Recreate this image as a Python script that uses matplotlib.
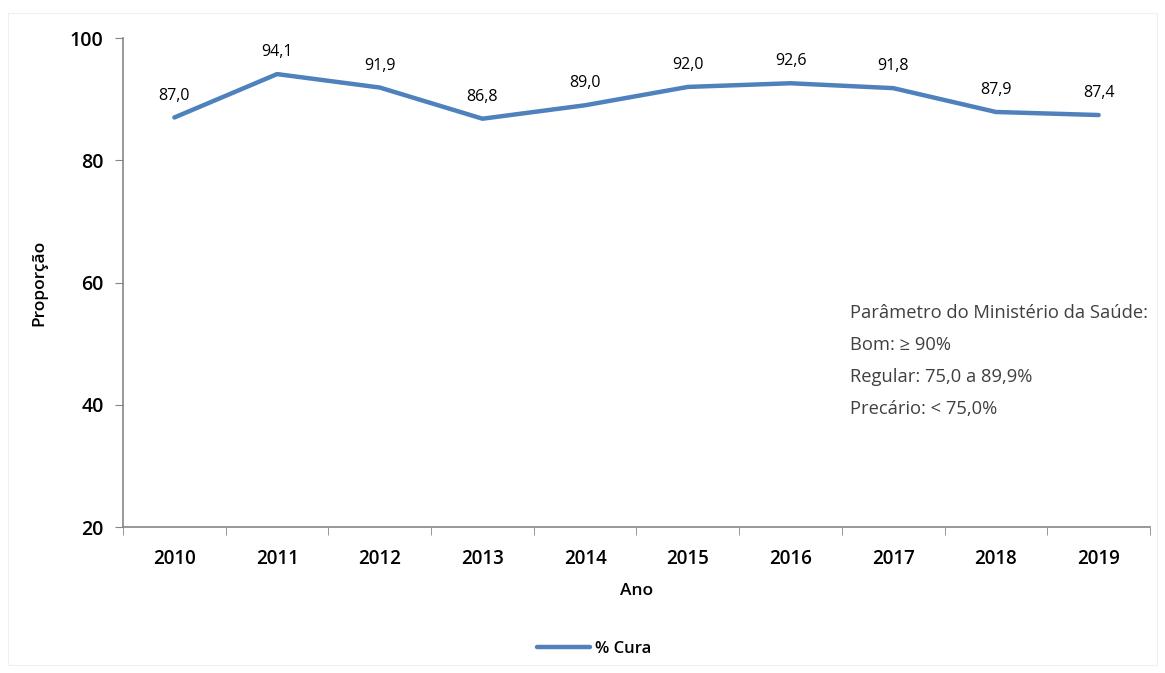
import matplotlib.pyplot as plt
from matplotlib.patches import Rectangle
from matplotlib.ticker import FixedLocator

anos = ['2010', '2011', '2012', '2013', '2014', '2015', '2016', '2017', '2018', '2019']
cura = [87.0, 94.1, 91.9, 86.8, 89.0, 92.0, 92.6, 91.8, 87.9, 87.4]
nota = ['Parâmetro do Ministério da Saúde:', 'Bom: ≥ 90%', 'Regular: 75,0 a 89,9%', 'Precário: < 75,0%']

plt.rcParams['font.family'] = ['Open Sans', 'DejaVu Sans']
azul = '#4F81BD'
cinza = '#868686'

fig = plt.figure(figsize=(11.65, 6.73), dpi=100)
fig.patches.append(Rectangle((0.007, 0.012), 0.986, 0.968, transform=fig.transFigure,
                             fill=False, edgecolor='#F0F0F0', linewidth=0.8))
ax = fig.add_axes([0.1056, 0.2169, 0.8815, 0.7266])

x = list(range(len(anos)))
linha, = ax.plot(x, cura, color=azul, linewidth=3.2, solid_capstyle='round', label='% Cura')
for xi, v in zip(x, cura):
    ax.annotate(f'{v:.1f}'.replace('.', ','), (xi, v), xytext=(0, 10), textcoords='offset points',
                ha='center', va='bottom', fontsize=11.5, color='black')

ax.set_xlim(-0.5, len(anos) - 0.5)
ax.set_ylim(20, 100)
ax.set_yticks([20, 40, 60, 80, 100])
ax.set_xticks(x)
ax.set_xticklabels(anos, fontsize=13.5, fontweight='semibold')
ax.xaxis.set_minor_locator(FixedLocator([i - 0.5 for i in range(len(anos) + 1)]))
ax.tick_params(axis='x', which='major', length=0, pad=16)
ax.tick_params(axis='x', which='minor', length=6, color=cinza, direction='out')
ax.tick_params(axis='y', length=6, color=cinza, labelsize=14, pad=8)
for lab in ax.get_yticklabels():
    lab.set_fontweight('semibold')

for s in ['top', 'right']:
    ax.spines[s].set_visible(False)
for s in ['left', 'bottom']:
    ax.spines[s].set_color(cinza)
    ax.spines[s].set_linewidth(1.2)

ax.set_xlabel('Ano', fontsize=12.5, fontweight='semibold', labelpad=10)
ax.set_ylabel('Proporção', fontsize=12.5, fontweight='semibold', labelpad=16)

for i, t in enumerate(nota):
    fig.text(850 / 1165, 1 - (313 + 32 * i) / 673, t, fontsize=13.2, color='#404040',
             ha='left', va='center')

fig.legend(handles=[linha], loc='center', bbox_to_anchor=(0.51, 1 - 649 / 673), frameon=False,
           handlelength=3.2, handletextpad=0.3,
           prop={'weight': 'semibold', 'size': 12})

fig.savefig('out.png', dpi=100, facecolor='white')
